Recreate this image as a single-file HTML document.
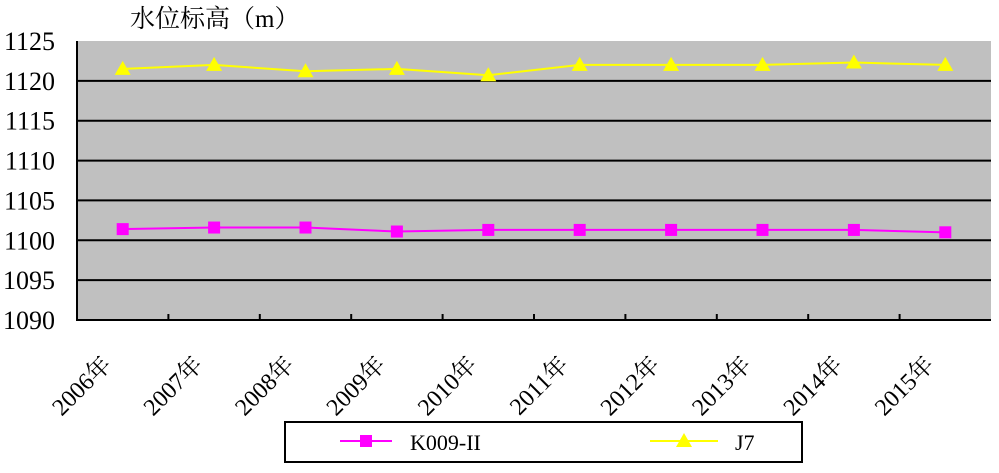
<!DOCTYPE html>
<html><head><meta charset="utf-8"><style>
body{margin:0;background:#fff;width:999px;height:468px;overflow:hidden}
svg text{font-family:"Liberation Serif","Noto Serif CJK SC",serif}
</style></head><body>
<svg id="chart" width="999" height="468">
<text x="130" y="27" font-size="25" font-family="'Noto Sans CJK SC',sans-serif">水位标高（m）</text>
<rect x="77" y="41" width="914" height="279" fill="#c0c0c0"/>
<g id="grid"></g><g id="yt"></g><g id="xt"></g><g id="series"></g>
<g>
<rect x="285" y="422" width="517" height="40" fill="#fff" stroke="#000" stroke-width="2"/>
<line x1="340" y1="441" x2="392" y2="441" stroke="#ff00ff" stroke-width="2"/>
<rect x="360" y="435" width="12" height="12" fill="#ff00ff"/>
<text x="410" y="450" font-size="22">K009-II</text>
<line x1="650" y1="441" x2="718" y2="441" stroke="#ffff00" stroke-width="2"/>
<polygon points="684,433 676,447 692,447" fill="#ffff00"/>
<text x="735" y="450" font-size="22">J7</text>
</g>
</svg>
<script>
const categories=["2006年","2007年","2008年","2009年","2010年","2011年","2012年","2013年","2014年","2015年"];
const k009=[1101.4,1101.6,1101.6,1101.1,1101.3,1101.3,1101.3,1101.3,1101.3,1101.0];
const j7=[1121.5,1122.0,1121.2,1121.5,1120.7,1122.0,1122.0,1122.0,1122.3,1122.0];
const yTicks=[1090,1095,1100,1105,1110,1115,1120,1125];
const NS="http://www.w3.org/2000/svg";
const L=77,R=991,T=41,B=320,ymin=1090,ymax=1125;
const bw=(R-L)/categories.length;
const xs=i=>L+bw*(i+0.5);
const ys=v=>B-(v-ymin)/(ymax-ymin)*(B-T);
function mk(tag,attrs,parent){const e=document.createElementNS(NS,tag);for(const k in attrs)e.setAttribute(k,attrs[k]);document.getElementById(parent).appendChild(e);return e;}
yTicks.forEach(v=>{
 if(v>ymin&&v<ymax){const g=mk('line',{x1:L,x2:R,y1:ys(v),y2:ys(v),stroke:'#000','stroke-width':2},'grid');
 
 }
 const t=mk('text',{x:55,y:ys(v)+9,'text-anchor':'end','font-size':26},'yt');t.textContent=v;
 
 
});
const ax=mk('path',{d:`M${L},${T} V${B} H${R}`,fill:'none',stroke:'#000','stroke-width':2},'grid');


categories.forEach((c,i)=>{
 if(i>0){const tk=mk('line',{x1:L+bw*i,x2:L+bw*i,y1:B,y2:B-6,stroke:'#000','stroke-width':2},'xt');
 
 }
 const x=xs(i)-10,y=B+46;
 const t=mk('text',{x:x,y:y,'text-anchor':'end','font-size':24,transform:`rotate(-45 ${x} ${y})`},'xt');t.textContent=c;
 
 
});
function series(vals,color,name,marker){
 const p=mk('polyline',{points:vals.map((v,i)=>xs(i)+','+ys(v)).join(' '),fill:'none',stroke:color,'stroke-width':2},'series');
 
 
 vals.forEach((v,i)=>{
  const x=xs(i),y=ys(v);let m;
  if(marker==='sq')m=mk('rect',{x:x-6,y:y-6,width:12,height:12,fill:color},'series');
  else m=mk('polygon',{points:`${x},${y-8} ${x-8},${y+6} ${x+8},${y+6}`,fill:color},'series');
  
  
 });
}
series(k009,'#ff00ff','k009','sq');
series(j7,'#ffff00','j7','tri');
</script>
</body></html>
